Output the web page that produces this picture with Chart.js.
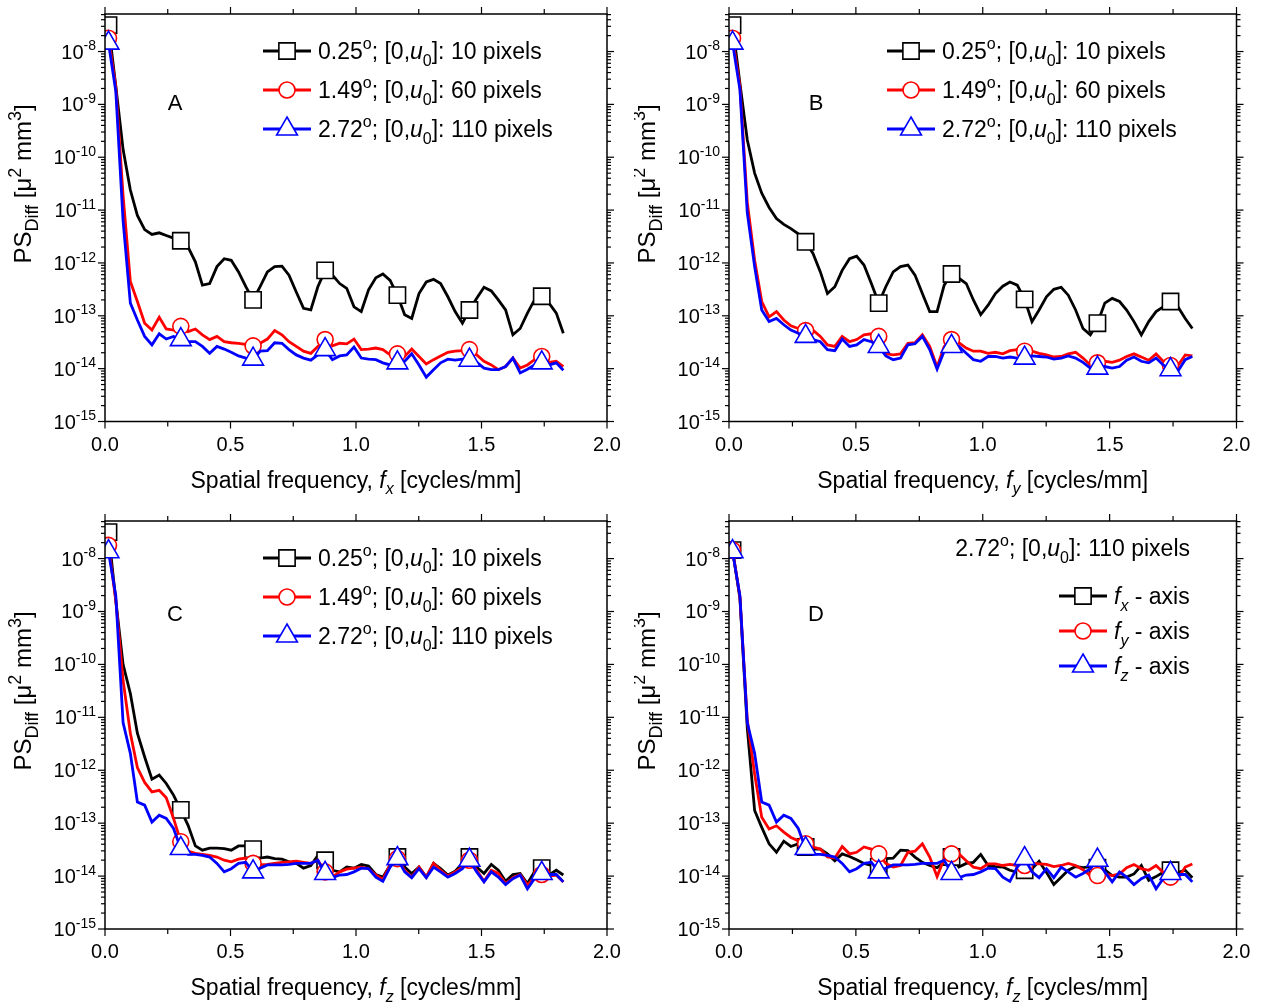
<!DOCTYPE html>
<html>
<head>
<meta charset="utf-8">
<script src="https://cdn.jsdelivr.net/npm/chart.js@4.4.0/dist/chart.umd.min.js"></script>
<style>
  body { margin: 0; background: #fff; width: 1269px; height: 1007px; position: relative; overflow: hidden; }
  canvas { position: absolute; }
</style>
</head>
<body>
<canvas id="pA" width="634" height="504" style="left:0;top:0"></canvas>
<canvas id="pB" width="635" height="504" style="left:634px;top:0"></canvas>
<canvas id="pC" width="634" height="503" style="left:0;top:504px"></canvas>
<canvas id="pD" width="635" height="503" style="left:634px;top:504px"></canvas>
<script>
// spatial frequency bins [cycles/mm]
const freq = [0.014, 0.043, 0.072, 0.101, 0.129, 0.158, 0.187, 0.216, 0.244, 0.273,
  0.302, 0.331, 0.360, 0.388, 0.417, 0.446, 0.475, 0.503, 0.532, 0.561,
  0.590, 0.618, 0.647, 0.676, 0.705, 0.733, 0.762, 0.791, 0.820, 0.848,
  0.877, 0.906, 0.935, 0.963, 0.992, 1.021, 1.050, 1.079, 1.107, 1.136,
  1.165, 1.194, 1.222, 1.251, 1.280, 1.309, 1.337, 1.366, 1.395, 1.424,
  1.452, 1.481, 1.510, 1.539, 1.567, 1.596, 1.625, 1.654, 1.683, 1.711,
  1.740, 1.769, 1.798, 1.826];

// log10 of PS_Diff, f_x direction (A)
const aBlack = [-7.50, -8.65, -9.85, -10.62, -11.10, -11.37, -11.46, -11.43, -11.48, -11.53,
  -11.58, -11.70, -11.98, -12.42, -12.39, -12.07, -11.92, -11.95, -12.17, -12.45,
  -12.70, -12.45, -12.17, -12.07, -12.06, -12.23, -12.55, -12.86, -12.89, -12.45,
  -12.14, -12.23, -12.39, -12.48, -12.83, -12.92, -12.51, -12.28, -12.21, -12.33,
  -12.61, -12.98, -13.05, -12.58, -12.36, -12.31, -12.39, -12.64, -12.92, -13.14,
  -12.89, -12.67, -12.46, -12.53, -12.70, -12.89, -13.36, -13.24, -12.95, -12.70,
  -12.63, -12.76, -12.95, -13.33];
const aRed = [-7.75, -8.66, -10.72, -12.35, -12.73, -13.14, -13.27, -13.03, -13.25, -13.27,
  -13.20, -13.30, -13.25, -13.36, -13.45, -13.39, -13.49, -13.51, -13.52, -13.54,
  -13.57, -13.52, -13.44, -13.28, -13.36, -13.49, -13.58, -13.67, -13.71, -13.58,
  -13.45, -13.57, -13.52, -13.53, -13.44, -13.64, -13.63, -13.61, -13.64, -13.74,
  -13.72, -13.77, -13.63, -13.77, -13.91, -13.83, -13.76, -13.69, -13.67, -13.66,
  -13.64, -13.74, -13.86, -13.93, -14.02, -13.96, -13.80, -13.99, -13.93, -13.83,
  -13.77, -13.88, -13.86, -13.96];
const aBlue = [-7.84, -8.75, -11.20, -12.76, -13.08, -13.39, -13.55, -13.34, -13.44, -13.39,
  -13.45, -13.49, -13.49, -13.58, -13.71, -13.58, -13.63, -13.69, -13.76, -13.80,
  -13.82, -13.67, -13.66, -13.51, -13.52, -13.64, -13.74, -13.80, -13.84, -13.74,
  -13.64, -13.83, -13.76, -13.74, -13.59, -13.80, -13.82, -13.83, -13.89, -13.93,
  -13.89, -13.86, -13.72, -13.93, -14.16, -14.02, -13.89, -13.82, -13.84, -13.82,
  -13.84, -13.88, -13.99, -14.02, -14.02, -13.96, -13.80, -14.08, -14.01, -13.93,
  -13.89, -13.93, -13.89, -14.03];

// log10 of PS_Diff, f_y direction (B)
const bBlack = [-7.50, -8.60, -9.67, -10.30, -10.68, -10.95, -11.16, -11.27, -11.35, -11.45,
  -11.60, -11.82, -12.17, -12.58, -12.45, -12.14, -11.92, -11.87, -12.04, -12.39,
  -12.76, -12.45, -12.17, -12.07, -12.04, -12.23, -12.58, -12.92, -12.92, -12.42,
  -12.21, -12.29, -12.39, -12.70, -12.98, -12.80, -12.58, -12.44, -12.36, -12.42,
  -12.69, -13.11, -12.89, -12.64, -12.50, -12.46, -12.61, -12.89, -13.24, -13.36,
  -13.14, -12.76, -12.67, -12.73, -12.89, -13.11, -13.36, -13.11, -12.92, -12.83,
  -12.73, -12.83, -13.05, -13.24];
const bRed = [-7.75, -8.65, -10.85, -11.95, -12.73, -13.02, -12.92, -13.08, -13.19, -13.24,
  -13.28, -13.27, -13.39, -13.55, -13.58, -13.39, -13.49, -13.45, -13.36, -13.34,
  -13.39, -13.72, -13.74, -13.72, -13.52, -13.51, -13.36, -13.58, -13.97, -13.58,
  -13.45, -13.51, -13.61, -13.67, -13.67, -13.71, -13.69, -13.72, -13.66, -13.64,
  -13.67, -13.67, -13.71, -13.74, -13.78, -13.77, -13.72, -13.69, -13.80, -13.93,
  -13.89, -13.86, -13.88, -13.84, -13.77, -13.72, -13.78, -13.84, -13.72, -13.86,
  -13.94, -13.94, -13.74, -13.76];
const bBlue = [-7.84, -8.72, -11.05, -12.07, -12.89, -13.11, -13.05, -13.17, -13.27, -13.33,
  -13.39, -13.45, -13.49, -13.64, -13.66, -13.44, -13.58, -13.55, -13.45, -13.49,
  -13.58, -13.76, -13.83, -13.80, -13.55, -13.53, -13.39, -13.64, -14.01, -13.67,
  -13.58, -13.58, -13.71, -13.83, -13.86, -13.77, -13.77, -13.80, -13.78, -13.80,
  -13.80, -13.76, -13.77, -13.78, -13.82, -13.80, -13.76, -13.80, -13.88, -13.99,
  -13.99, -13.96, -13.99, -13.96, -13.84, -13.78, -13.86, -13.89, -13.80, -13.93,
  -14.02, -14.05, -13.83, -13.77];

// log10 of PS_Diff, f_z direction (C)
const cBlack = [-7.50, -8.79, -10.00, -10.55, -11.30, -11.75, -12.17, -12.09, -12.25, -12.47,
  -12.75, -13.04, -13.43, -13.51, -13.47, -13.47, -13.48, -13.51, -13.43, -13.43,
  -13.49, -13.66, -13.64, -13.67, -13.68, -13.73, -13.76, -13.85, -13.80, -13.61,
  -13.70, -13.89, -13.92, -13.83, -13.85, -13.78, -13.81, -13.97, -14.02, -13.79,
  -13.64, -13.83, -13.95, -13.83, -14.02, -13.76, -13.86, -13.98, -13.91, -13.76,
  -13.64, -13.83, -13.95, -13.78, -13.89, -14.10, -13.97, -13.95, -14.14, -13.92,
  -13.85, -13.98, -13.89, -13.98];
const cRed = [-7.75, -8.79, -10.30, -11.30, -11.95, -12.23, -12.41, -12.38, -12.52, -12.91,
  -13.35, -13.53, -13.57, -13.59, -13.61, -13.64, -13.70, -13.73, -13.68, -13.66,
  -13.76, -13.79, -13.78, -13.76, -13.74, -13.73, -13.72, -13.74, -13.76, -13.70,
  -13.92, -14.02, -13.92, -13.87, -13.85, -13.83, -13.86, -13.98, -14.06, -13.79,
  -13.67, -13.89, -14.02, -13.83, -14.02, -13.76, -13.89, -14.00, -13.92, -13.83,
  -13.70, -13.89, -14.10, -13.89, -13.95, -14.14, -14.03, -13.97, -14.17, -14.02,
  -13.97, -14.00, -13.98, -14.11];
const cBlue = [-7.87, -8.70, -11.10, -11.68, -12.60, -12.66, -12.98, -12.85, -12.91, -13.10,
  -13.48, -13.59, -13.59, -13.61, -13.64, -13.76, -13.92, -13.86, -13.76, -13.74,
  -13.92, -13.85, -13.79, -13.79, -13.79, -13.78, -13.76, -13.76, -13.76, -13.70,
  -13.95, -14.03, -13.98, -13.97, -13.92, -13.85, -13.86, -14.02, -14.10, -13.83,
  -13.67, -13.92, -14.03, -13.86, -14.03, -13.83, -13.92, -14.02, -13.95, -13.86,
  -13.70, -13.92, -14.11, -13.92, -14.02, -14.16, -14.05, -13.98, -14.24, -14.05,
  -13.95, -13.97, -13.97, -14.11];

const xTickLabels = ['0.0', '0.5', '1.0', '1.5', '2.0'];
const yTickExps = [-15, -14, -13, -12, -11, -10, -9, -8];

const FONT = '"Liberation Sans", Arial, Helvetica, sans-serif';
const COLORS = ['#000000', '#ff0000', '#0000ff'];
const STYLES = ['rect', 'circle', 'triangle'];
const RADII = { rect: 11.5, circle: 8, triangle: 12 };

// --- rich text: segments with sup/sub/italic ---
function segFont(s, size, ratio) {
  const sz = (s.sup || s.sub) ? Math.round(size * ratio) : size;
  return (s.it ? 'italic ' : '') + sz + 'px ' + FONT;
}
function richWidth(ctx, segs, size, ratio) {
  let w = 0;
  segs.forEach(s => { ctx.font = segFont(s, size, ratio); w += ctx.measureText(s.t).width; });
  return w;
}
function drawRich(ctx, segs, x, y, size, align, ratio) {
  ratio = ratio || 0.68;
  const w = richWidth(ctx, segs, size, ratio);
  let cx = align === 'center' ? x - w / 2 : align === 'right' ? x - w : x;
  ctx.textAlign = 'left';
  ctx.textBaseline = 'alphabetic';
  segs.forEach(s => {
    ctx.font = segFont(s, size, ratio);
    const dy = s.sup ? -size * 0.42 : s.sub ? size * 0.3 : 0;
    ctx.fillText(s.t, cx, y + dy);
    cx += ctx.measureText(s.t).width;
  });
}

function angleLabel(deg, px) {
  return [{ t: deg }, { t: 'o', sup: 1 }, { t: '; [0,' }, { t: 'u', it: 1 }, { t: '0', sub: 1 }, { t: ']: ' + px + ' pixels' }];
}
function axisLabel(dir) {
  return [{ t: 'f', it: 1 }, { t: dir, sub: 1, it: 1 }, { t: ' - axis' }];
}

function marker(ctx, style, x, y, color) {
  const r = RADII[style];
  ctx.save();
  ctx.fillStyle = '#fff';
  ctx.strokeStyle = color;
  ctx.lineWidth = 1.6;
  ctx.beginPath();
  if (style === 'rect') {
    const s = r * Math.SQRT1_2;
    ctx.rect(x - s, y - s, 2 * s, 2 * s);
  } else if (style === 'circle') {
    ctx.arc(x, y, r, 0, Math.PI * 2);
  } else {
    ctx.moveTo(x, y - r);
    ctx.lineTo(x + r * 0.866, y + r * 0.5);
    ctx.lineTo(x - r * 0.866, y + r * 0.5);
    ctx.closePath();
  }
  ctx.fill();
  ctx.stroke();
  ctx.restore();
}

// frame, ticks, labels, legend
const decor = {
  id: 'decor',
  afterDraw(chart, args, o) {
    const ctx = chart.ctx, a = chart.chartArea;
    const xs = chart.scales.x, ys = chart.scales.y;
    ctx.save();
    ctx.strokeStyle = '#000';
    ctx.fillStyle = '#000';
    ctx.lineWidth = 1.5;
    ctx.strokeRect(a.left, a.top, a.right - a.left, a.bottom - a.top);

    const seg = (x1, y1, x2, y2) => { ctx.beginPath(); ctx.moveTo(x1, y1); ctx.lineTo(x2, y2); ctx.stroke(); };
    ctx.lineWidth = 1.2;
    for (let k = 0; k <= 8; k++) {
      const x = xs.getPixelForValue(k * 0.25);
      const len = k % 2 === 0 ? 7 : 5;
      seg(x, a.bottom, x, a.bottom + len);
      seg(x, a.top, x, a.top - len);
    }
    yTickExps.forEach(e => {
      for (let m = 1; m <= 9; m++) {
        const v = m * Math.pow(10, e);
        if (v > ys.max) break;
        const y = ys.getPixelForValue(v);
        const len = m === 1 ? 7 : 4;
        seg(a.left - len, y, a.left, y);
        seg(a.right, y, a.right + len, y);
      }
    });

    // tick labels
    ctx.textAlign = 'center';
    ctx.textBaseline = 'alphabetic';
    ctx.font = '20px ' + FONT;
    xTickLabels.forEach(t => {
      ctx.fillText(t, xs.getPixelForValue(parseFloat(t)), a.bottom + 29);
    });
    yTickExps.forEach(e => {
      const y = ys.getPixelForValue(Math.pow(10, e));
      drawRich(ctx, [{ t: '10' }, { t: String(e), sup: 1 }], a.left - 9, y + 7, 20, 'right', 0.72);
    });

    // axis titles
    drawRich(ctx, [{ t: 'Spatial frequency, ' }, { t: 'f', it: 1 }, { t: o.dir, sub: 1, it: 1 }, { t: ' [cycles/mm]' }],
      (a.left + a.right) / 2, a.bottom + 66, 23, 'center', 0.7);
    ctx.save();
    ctx.translate(a.left - 74, a.top + 170);
    ctx.rotate(-Math.PI / 2);
    drawRich(ctx, [{ t: 'PS' }, { t: 'Diff', sub: 1 }, { t: ' [\u03bc' }, { t: '2', sup: 1 }, { t: ' mm' }, { t: '3', sup: 1 }, { t: ']' }],
      0, 0, 24, 'center', 0.74);
    ctx.restore();

    // panel letter
    ctx.font = '22px ' + FONT;
    ctx.textAlign = 'center';
    ctx.fillText(o.letter, a.left + o.letterDx, a.top + o.letterDy);

    // header line (panel D)
    if (o.header) drawRich(ctx, o.header, a.left + o.headerX, a.top + o.headerY, 23, 'right', 0.7);

    // legend rows
    o.rows.forEach((row, k) => {
      const y = a.top + o.legY + k * o.legGap;
      const x0 = a.left + o.legX;
      ctx.strokeStyle = COLORS[k];
      ctx.lineWidth = 2.8;
      seg(x0, y, x0 + 48, y);
      marker(ctx, STYLES[k], x0 + 24, y, COLORS[k]);
      ctx.fillStyle = '#000';
      drawRich(ctx, row, x0 + 55, y + 8, 23, 'left', 0.7);
    });
    ctx.restore();
  }
};

function makeChart(id, series, pad, opts) {
  const datasets = series.map((logs, k) => ({
    data: freq.map((f, i) => ({ x: f, y: Math.pow(10, logs[i]) })),
    borderColor: COLORS[k],
    borderWidth: 2.8,
    pointStyle: STYLES[k],
    pointRadius: c => (c.dataIndex % 10 === 0 ? RADII[STYLES[k]] : 0),
    pointBackgroundColor: '#fff',
    pointBorderColor: COLORS[k],
    pointBorderWidth: 1.6,
    tension: 0,
    order: 2 - k
  }));
  return new Chart(document.getElementById(id), {
    type: 'line',
    data: { datasets },
    plugins: [decor],
    options: {
      responsive: false,
      animation: false,
      layout: { padding: pad },
      plugins: { legend: { display: false }, tooltip: { enabled: false }, decor: opts },
      scales: {
        x: { type: 'linear', min: 0, max: 2, display: false },
        y: { type: 'logarithmic', min: 1e-15, max: 5.13e-8, display: false }
      }
    }
  });
}

const angleRows = [angleLabel('0.25', '10'), angleLabel('1.49', '60'), angleLabel('2.72', '110')];

makeChart('pA', [aBlack, aRed, aBlue], { left: 105, top: 14, right: 27, bottom: 82.5 },
  { dir: 'x', letter: 'A', letterDx: 70, letterDy: 96, rows: angleRows, legX: 158, legY: 37, legGap: 39 });
makeChart('pB', [bBlack, bRed, bBlue], { left: 95, top: 14, right: 32.5, bottom: 82.5 },
  { dir: 'y', letter: 'B', letterDx: 87, letterDy: 96, rows: angleRows, legX: 158, legY: 37, legGap: 39 });
makeChart('pC', [cBlack, cRed, cBlue], { left: 105, top: 17, right: 27, bottom: 78 },
  { dir: 'z', letter: 'C', letterDx: 70, letterDy: 100, rows: angleRows, legX: 158, legY: 37, legGap: 39 });
makeChart('pD', [aBlue, bBlue, cBlue], { left: 95, top: 17, right: 32.5, bottom: 78 },
  { dir: 'z', letter: 'D', letterDx: 87, letterDy: 100, rows: [axisLabel('x'), axisLabel('y'), axisLabel('z')],
    legX: 330, legY: 75, legGap: 35,
    header: angleLabel('2.72', '110'), headerX: 461, headerY: 35 });
</script>
</body>
</html>
